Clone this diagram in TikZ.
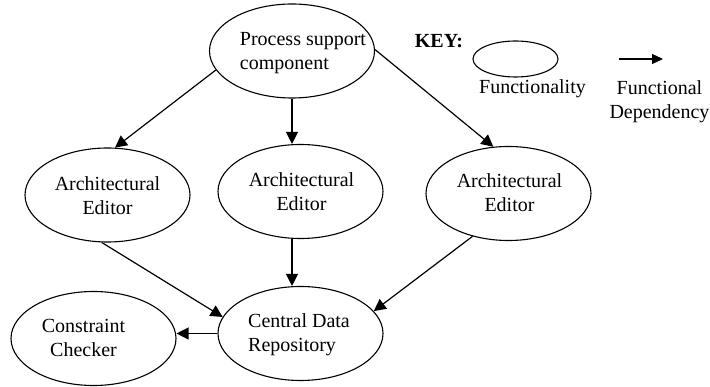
\documentclass[tikz,border=0pt]{standalone}
\usepackage{fontspec}
\setmainfont{Liberation Serif}
\usetikzlibrary{shapes.geometric,arrows.meta}
\begin{document}
\begin{tikzpicture}[x=1pt,y=-1pt,
  ell/.style={ellipse, draw, line width=1.1pt, minimum width=165pt, minimum height=94pt, inner sep=0pt},
  txt/.style={inner sep=0pt, font=\fontsize{20}{24}\selectfont},
  arr/.style={line width=1.2pt, -{Triangle[length=12pt,width=12pt]}}]
\useasboundingbox (0,0) rectangle (710,387);
% ellipses
\node[ell] (psc) at (292,51) {};
\node[ell] (ae1) at (107.5,195) {};
\node[ell] (ae2) at (300.5,191.5) {};
\node[ell] (ae3) at (508.5,193.5) {};
\node[ell] (cdr) at (300.5,333.5) {};
\node[ell] (cc) at (93.5,338.5) {};
\node[ell, minimum width=85pt, minimum height=36pt] (kell) at (515.5,59) {};
% texts
\node[txt, align=left] (psct) at (303,53) {Process support\\component};
\node[txt, align=center] (ae1t) at (107.5,195.6) {Architectural\\Editor};
\node[txt, align=center] (ae2t) at (301.5,191.7) {Architectural\\Editor};
\node[txt, align=center] (ae3t) at (509.5,192.7) {Architectural\\Editor};
\node[txt, align=left] (cdrt) at (299,334.8) {Central Data\\Repository};
\node[txt, align=center] (cct) at (83.5,338.2) {Constraint\\Checker};
\node[txt, anchor=base, font=\fontsize{20}{24}\selectfont\bfseries] (key) at (439,48) {KEY:};
\node[txt, anchor=base] (kf) at (532.5,94) {Functionality};
\node[txt, align=center] (kfd) at (659.5,101.8) {Functional\\Dependency};
% connectors
\draw[arr] (psc.194.4) -- (ae1.81.1);
\draw[arr] (psc.south) -- (psc.south |- ae2.north);
\draw[arr] (psc.1.4) -- (ae3.108.4);
\draw[arr] (ae1.263.3) -- (cdr.168);
\draw[arr] (ae2.south -| psc.south) -- (psc.south |- cdr.north);
\draw[arr] (ae3.230.4) -- (cdr.17.5);
\draw[arr] (cdr.west) -- (cdr.west -| cc.east);
\coordinate (ka) at (619,59);
\coordinate (kb) at (663,59);
\draw[line width=1.2pt, -{Triangle[length=11pt,width=10pt]}] (ka) -- (kb);
\end{tikzpicture}
\end{document}
